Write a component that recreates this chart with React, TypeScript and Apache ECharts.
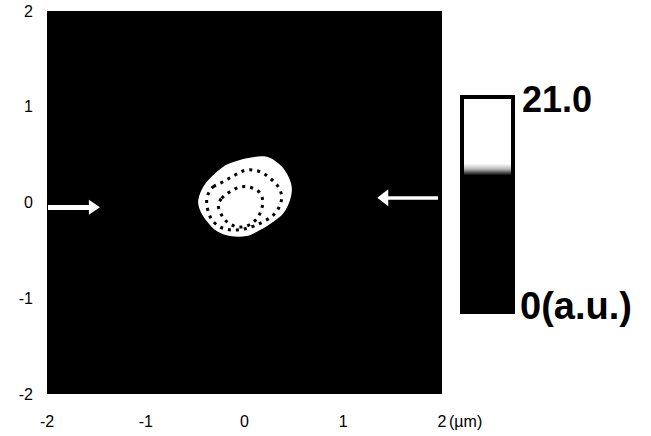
import React, { useEffect, useRef } from "react";
import * as echarts from "echarts";

// Axis range (µm)
const AXIS_MIN = -2;
const AXIS_MAX = 2;
const AXIS_STEP = 1;
const X_UNIT = "(µm)";

// Outline of the bright (saturated) spot, data coordinates (µm)
const SPOT_OUTLINE: [number, number][] = [
  [-0.147, 0.409], [0.022, 0.462], [0.225, 0.478], [0.342, 0.409], [0.427, 0.305],
  [0.478, 0.165], [0.461, 0.026], [0.393, -0.113], [0.292, -0.2], [0.157, -0.287],
  [0.022, -0.35], [-0.147, -0.35], [-0.282, -0.298], [-0.383, -0.193], [-0.451, -0.078],
  [-0.468, 0.026], [-0.417, 0.165], [-0.316, 0.287], [-0.215, 0.374],
];

// Dotted contour lines inside the spot
const OUTER_CONTOUR: [number, number][] = [
  [-0.316, 0.165], [-0.215, 0.217], [-0.096, 0.287], [0.022, 0.339], [0.157, 0.322],
  [0.258, 0.253], [0.342, 0.165], [0.376, 0.061], [0.353, -0.043], [0.292, -0.131],
  [0.191, -0.2], [0.073, -0.253], [-0.079, -0.287], [-0.215, -0.27], [-0.316, -0.2],
  [-0.367, -0.096], [-0.383, 0.026], [-0.357, 0.113],
];
const INNER_CONTOUR: [number, number][] = [
  [-0.231, 0.043], [-0.147, 0.113], [-0.028, 0.165], [0.089, 0.148], [0.164, 0.089],
  [0.184, -0.008], [0.157, -0.113], [0.106, -0.19], [0.022, -0.245], [-0.079, -0.253],
  [-0.18, -0.2], [-0.241, -0.113], [-0.265, -0.026],
];

// Arrows: [start, end(tip)]
const LEFT_ARROW: [number, number][] = [[-1.99, -0.05], [-1.52, -0.05]];
const RIGHT_ARROW: [number, number][] = [[1.96, 0.05], [1.4, 0.05]];

// Colour bar labels
const COLORBAR_MAX_LABEL = "21.0";
const COLORBAR_MIN_LABEL = "0(a.u.)";

export default function App() {
  const ref = useRef<HTMLDivElement>(null);

  useEffect(() => {
    if (!ref.current) return;
    const chart = echarts.init(ref.current, undefined, { renderer: "svg" });

    const axisCommon = {
      type: "value",
      min: AXIS_MIN,
      max: AXIS_MAX,
      interval: AXIS_STEP,
      axisLine: { show: false },
      axisTick: { show: false },
      splitLine: { show: false },
    };

    const arrowSeries = (pts: [number, number][], width: number, head: [number, number]) => ({
      type: "line",
      data: [],
      silent: true,
      markLine: {
        silent: true,
        animation: false,
        symbol: ["none", "triangle"],
        symbolSize: head,
        label: { show: false },
        lineStyle: { color: "#ffffff", width, type: "solid" },
        emphasis: { disabled: true },
        data: [[{ coord: pts[0] }, { coord: pts[1] }]],
      },
    });

    chart.setOption({
      animation: false,
      grid: {
        left: 47,
        top: 11,
        right: 209,
        bottom: 42,
        show: true,
        backgroundColor: "#000000",
        borderWidth: 0,
      },
      xAxis: {
        ...axisCommon,
        axisLabel: {
          color: "#000",
          fontSize: 16,
          fontFamily: "Liberation Sans",
          margin: 19,
        },
      },
      yAxis: {
        ...axisCommon,
        axisLabel: {
          color: "#000",
          fontSize: 16,
          fontFamily: "Liberation Sans",
          margin: 14,
        },
      },
      series: [
        {
          type: "custom",
          silent: true,
          data: [[0, 0]],
          renderItem: (_params: any, api: any) => ({
            type: "group",
            children: [
              {
                type: "polygon",
                shape: { points: SPOT_OUTLINE.map((p) => api.coord(p)), smooth: 0.35 },
                style: { fill: "#ffffff", stroke: "none" },
              },
              {
                type: "polygon",
                shape: { points: OUTER_CONTOUR.map((p) => api.coord(p)), smooth: 0.35 },
                style: { fill: "none", stroke: "#000000", lineWidth: 3, lineDash: [3, 5] },
              },
              {
                type: "polygon",
                shape: { points: INNER_CONTOUR.map((p) => api.coord(p)), smooth: 0.35 },
                style: { fill: "none", stroke: "#000000", lineWidth: 3, lineDash: [3, 5] },
              },
            ],
          }),
        },
        arrowSeries(LEFT_ARROW, 5, [15, 11]),
        arrowSeries(RIGHT_ARROW, 3.5, [17, 11]),
      ],
      graphic: [
        {
          type: "text",
          left: 449,
          top: 413,
          style: {
            text: X_UNIT,
            fontSize: 16,
            fontFamily: "Liberation Sans",
            fill: "#000",
          },
        },
        {
          type: "rect",
          shape: { x: 462, y: 97, width: 51, height: 215 },
          style: {
            fill: {
              type: "linear",
              x: 0,
              y: 0,
              x2: 0,
              y2: 1,
              colorStops: [
                { offset: 0, color: "#ffffff" },
                { offset: 0.31, color: "#ffffff" },
                { offset: 0.335, color: "#b8b8b8" },
                { offset: 0.365, color: "#000000" },
                { offset: 1, color: "#000000" },
              ],
            },
            stroke: "#000000",
            lineWidth: 4,
          },
        },
        {
          type: "text",
          x: 522,
          y: 99,
          style: {
            text: COLORBAR_MAX_LABEL,
            fontSize: 36,
            fontWeight: "bold",
            fontFamily: "Liberation Sans",
            fill: "#000",
            verticalAlign: "middle",
            align: "left",
          },
        },
        {
          type: "text",
          x: 520,
          y: 306,
          style: {
            text: COLORBAR_MIN_LABEL,
            fontSize: 38,
            fontWeight: "bold",
            fontFamily: "Liberation Sans",
            fill: "#000",
            verticalAlign: "middle",
            align: "left",
          },
        },
      ],
    });

    return () => chart.dispose();
  }, []);

  return (
    <div
      ref={ref}
      style={{ position: "fixed", left: 0, top: 0, width: 651, height: 436, background: "#fff" }}
    />
  );
}
